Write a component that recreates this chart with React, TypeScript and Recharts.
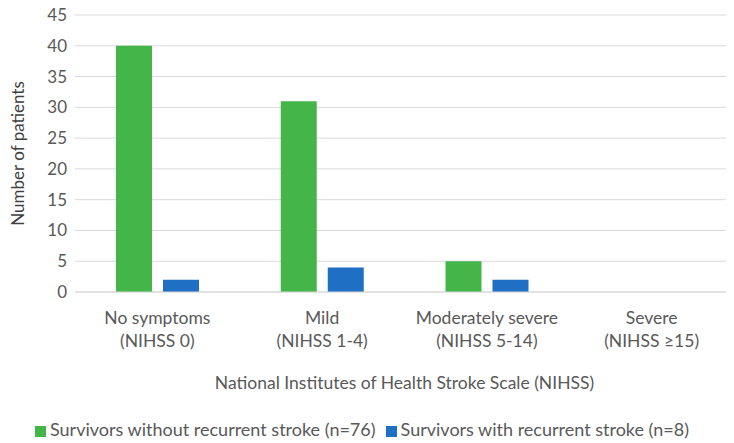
import { BarChart, Bar, XAxis, YAxis, CartesianGrid, Legend, Label } from 'recharts';

const categories = ['No symptoms', 'Mild', 'Moderately severe', 'Severe'];
const subLabels = ['(NIHSS 0)', '(NIHSS 1-4)', '(NIHSS 5-14)', '(NIHSS ≥15)'];
const withoutRecurrent = [40, 31, 5, 0];
const withRecurrent = [2, 4, 2, 0];
const yTicks = [0, 5, 10, 15, 20, 25, 30, 35, 40, 45];

const data = categories.map((name, i) => ({
  name,
  sub: subLabels[i],
  without: withoutRecurrent[i],
  with: withRecurrent[i],
}));

const FONT = 'Lato, "Noto Sans", sans-serif';
const TEXT = '#595959';

function CategoryTick(props: any) {
  const { x, y, payload } = props;
  const row = data[payload.index] ?? data.find((d) => d.name === payload.value);
  return (
    <text x={x} y={y} textAnchor="middle" fill={TEXT} fontSize={17.5} fontFamily={FONT}>
      <tspan x={x} dy={24}>{payload.value}</tspan>
      <tspan x={x} dy={23}>{row ? row.sub : ''}</tspan>
    </text>
  );
}

export default function App() {
  return (
    <div style={{ marginLeft: -8, marginTop: -8, background: '#fff', width: 734, height: 443 }}>
      <BarChart
        width={734}
        height={443}
        data={data}
        margin={{ top: 15, right: 0, left: 0, bottom: 0 }}
        barSize={36}
        barGap={11}
      >
        <CartesianGrid vertical={false} stroke="#d9d9d9" />
        <XAxis
          dataKey="name"
          height={126}
          axisLine={{ stroke: '#d9d9d9' }}
          tickLine={false}
          interval={0}
          tick={<CategoryTick />}
        >
          <Label
            value="National Institutes of Health Stroke Scale (NIHSS)"
            position="insideBottom"
            offset={29}
            fill={TEXT}
            fontSize={17.5}
            fontFamily={FONT}
          />
        </XAxis>
        <YAxis
          width={75}
          domain={[0, 45]}
          ticks={yTicks}
          axisLine={false}
          tickLine={false}
          tick={{ fill: TEXT, fontSize: 17, fontFamily: FONT }}
        >
          <Label
            value="Number of patients"
            angle={-90}
            position="insideLeft"
            offset={18}
            style={{ textAnchor: 'middle' }}
            fill="#404040"
            fontSize={17}
            fontFamily={FONT}
          />
        </YAxis>
        <Legend
          verticalAlign="bottom"
          height={25}
          iconType="square"
          iconSize={11}
          itemSorter={(item: any) => (item.dataKey === 'without' ? 0 : 1)}
          wrapperStyle={{ fontFamily: FONT, fontSize: 18 }}
          formatter={(value) => <span style={{ color: TEXT }}>{value}</span>}
        />
        <Bar dataKey="without" name="Survivors without recurrent stroke (n=76)" fill="#44b549" isAnimationActive={false} />
        <Bar dataKey="with" name="Survivors with recurrent stroke (n=8)" fill="#1f6fc5" isAnimationActive={false} />
      </BarChart>
    </div>
  );
}
